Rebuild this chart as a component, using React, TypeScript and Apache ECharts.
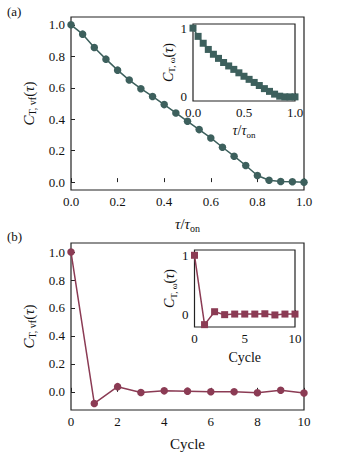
import React, { useEffect, useRef } from "react";
import * as echarts from "echarts";

const tauGrid = [0, 0.05, 0.1, 0.15, 0.2, 0.25, 0.3, 0.35, 0.4, 0.45, 0.5, 0.55, 0.6, 0.65, 0.7, 0.75, 0.8, 0.85, 0.9, 0.95, 1.0];
const corrVf = [1.0, 0.941, 0.856, 0.782, 0.712, 0.649, 0.594, 0.545, 0.493, 0.44, 0.387, 0.334, 0.281, 0.222, 0.165, 0.106, 0.042, 0.012, 0.004, 0.002, 0.0];
const corrOmega = [1.0, 0.88, 0.78, 0.69, 0.62, 0.56, 0.5, 0.45, 0.4, 0.35, 0.3, 0.255, 0.21, 0.165, 0.12, 0.08, 0.04, 0.01, 0.0, 0.0, 0.0];

const cycles = [0, 1, 2, 3, 4, 5, 6, 7, 8, 9, 10];
const cycleVf = [1.0, -0.083, 0.037, -0.005, 0.007, 0.005, 0.0, 0.0, -0.007, 0.011, -0.009];
const cycleOmega = [1.0, -0.18, 0.04, -0.01, 0.0, 0.0, 0.0, 0.005, -0.015, 0.0, 0.0];

const mainYTicks = [0, 0.2, 0.4, 0.6, 0.8, 1.0];
const mainXTicksA = [0, 0.2, 0.4, 0.6, 0.8, 1.0];
const mainXTicksB = [0, 2, 4, 6, 8, 10];
const insetYTicks = [0, 1];
const insetXTicksA = [0, 0.5, 1.0];
const insetXTicksB = [0, 5, 10];

const TEAL = "#3d605d";
const MAROON = "#8b3b54";
const FONT = "Liberation Serif";

const rich = {
  c: { fontFamily: FONT, fontStyle: "italic", fontSize: 15, lineHeight: 18, color: "#111", verticalAlign: "middle" },
  s: { fontFamily: FONT, fontSize: 10, lineHeight: 10, color: "#111", verticalAlign: "bottom" },
  n: { fontFamily: FONT, fontSize: 15, lineHeight: 18, color: "#111", verticalAlign: "middle" },
  t: { fontFamily: FONT, fontStyle: "italic", fontSize: 15, lineHeight: 18, color: "#111", verticalAlign: "middle" },
};
const richSmall = {
  c: { ...rich.c, fontSize: 14, lineHeight: 17 },
  s: { ...rich.s, fontSize: 9, lineHeight: 9 },
  n: { ...rich.n, fontSize: 14, lineHeight: 17 },
  t: { ...rich.t, fontSize: 14, lineHeight: 17 },
};

function valueAxisX(min: number, max: number, ticks: number[], fmt: (v: number) => string, gridIndex: number, name: string, nameGap: number, nameRich: any, nameSize: number) {
  return {
    type: "value",
    gridIndex,
    min,
    max,
    axisLine: { show: false },
    splitLine: { show: false },
    axisTick: { show: true, inside: true, length: 4, lineStyle: { color: "#222", width: 1 }, customValues: ticks },
    axisLabel: { show: true, margin: 5, color: "#111", fontFamily: FONT, fontSize: 13, customValues: ticks, formatter: (v: number) => fmt(v) },
    name,
    nameLocation: "middle",
    nameGap,
    nameTextStyle: { fontFamily: FONT, fontSize: nameSize, color: "#111", rich: nameRich },
  };
}

function valueAxisY(min: number, max: number, ticks: number[], fmt: (v: number) => string, gridIndex: number, name: string, nameGap: number, nameRich: any) {
  return {
    type: "value",
    gridIndex,
    min,
    max,
    axisLine: { show: false },
    splitLine: { show: false },
    axisTick: { show: true, inside: true, length: 4, lineStyle: { color: "#222", width: 1 }, customValues: ticks },
    axisLabel: { show: true, margin: 6, color: "#111", fontFamily: FONT, fontSize: 13, customValues: ticks, formatter: (v: number) => fmt(v) },
    name,
    nameLocation: "middle",
    nameGap,
    nameRotate: 90,
    nameTextStyle: { fontFamily: FONT, color: "#111", rich: nameRich },
  };
}

const f1 = (v: number) => v.toFixed(1);
const f0 = (v: number) => String(Math.round(v));

export default function App() {
  const ref = useRef<HTMLDivElement>(null);
  useEffect(() => {
    if (!ref.current) return;
    const chart = echarts.init(ref.current, null, { renderer: "svg" });
    const gridBase = { show: true, borderColor: "#222", borderWidth: 1.2, backgroundColor: "#fff" };
    chart.setOption({
      animation: false,
      backgroundColor: "#fff",
      textStyle: { fontFamily: FONT },
      grid: [
        { ...gridBase, left: 71, top: 17, width: 233, height: 173, z: 0 },
        { ...gridBase, left: 193, top: 24, width: 102, height: 77, z: 5 },
        { ...gridBase, left: 71, top: 243, width: 233, height: 173, z: 0 },
        { ...gridBase, left: 194.5, top: 250, width: 100.5, height: 77, z: 5 },
      ],
      xAxis: [
        valueAxisX(0, 1, mainXTicksA, f1, 0, "{t|τ}{n|/}{t|τ}{s|on}", 25, rich, 15),
        valueAxisX(0, 1, insetXTicksA, f1, 1, "{t|τ}{n|/}{t|τ}{s|on}", 21, richSmall, 14),
        { ...valueAxisX(0, 10, mainXTicksB, f0, 2, "Cycle", 26, rich, 15), nameTextStyle: { fontFamily: FONT, fontSize: 15, color: "#111" } },
        { ...valueAxisX(0, 10, insetXTicksB, f0, 3, "Cycle", 23, richSmall, 14), nameTextStyle: { fontFamily: FONT, fontSize: 14, color: "#111" } },
      ],
      yAxis: [
        valueAxisY(-0.05, 1.05, mainYTicks, f1, 0, "{c|C}{s|T, vf}{n|(}{t|τ}{n|)}", 29, rich),
        valueAxisY(-0.06, 1.06, insetYTicks, f0, 1, "{c|C}{s|T, ω}{n|(}{t|τ}{n|)}", 9, richSmall),
        valueAxisY(-0.13, 1.065, mainYTicks, f1, 2, "{c|C}{s|T, vf}{n|(}{t|τ}{n|)}", 29, rich),
        valueAxisY(-0.22, 1.09, insetYTicks, f0, 3, "{c|C}{s|T, ω}{n|(}{t|τ}{n|)}", 9, richSmall),
      ],
      series: [
        {
          type: "line", xAxisIndex: 0, yAxisIndex: 0, z: 2,
          data: tauGrid.map((x, i) => [x, corrVf[i]]),
          symbol: "circle", symbolSize: 7.5, lineStyle: { color: TEAL, width: 1.5 }, itemStyle: { color: TEAL },
        },
        {
          type: "line", xAxisIndex: 1, yAxisIndex: 1, z: 6,
          data: tauGrid.map((x, i) => [x, corrOmega[i]]),
          symbol: "rect", symbolSize: 7, lineStyle: { color: TEAL, width: 1.5 }, itemStyle: { color: TEAL },
        },
        {
          type: "line", xAxisIndex: 2, yAxisIndex: 2, z: 2,
          data: cycles.map((x, i) => [x, cycleVf[i]]),
          symbol: "circle", symbolSize: 7.5, lineStyle: { color: MAROON, width: 1.5 }, itemStyle: { color: MAROON },
        },
        {
          type: "line", xAxisIndex: 3, yAxisIndex: 3, z: 6,
          data: cycles.map((x, i) => [x, cycleOmega[i]]),
          symbol: "rect", symbolSize: 7, lineStyle: { color: MAROON, width: 1.5 }, itemStyle: { color: MAROON },
        },
      ],
      graphic: [
        { type: "text", left: 7, top: 5, style: { text: "(a)", fontFamily: FONT, fontSize: 13, fill: "#111" } },
        { type: "text", left: 7, top: 230, style: { text: "(b)", fontFamily: FONT, fontSize: 13, fill: "#111" } },
      ],
    });
    return () => chart.dispose();
  }, []);
  return <div ref={ref} style={{ position: "fixed", left: 0, top: 0, width: 347, height: 452, background: "#fff" }} />;
}
